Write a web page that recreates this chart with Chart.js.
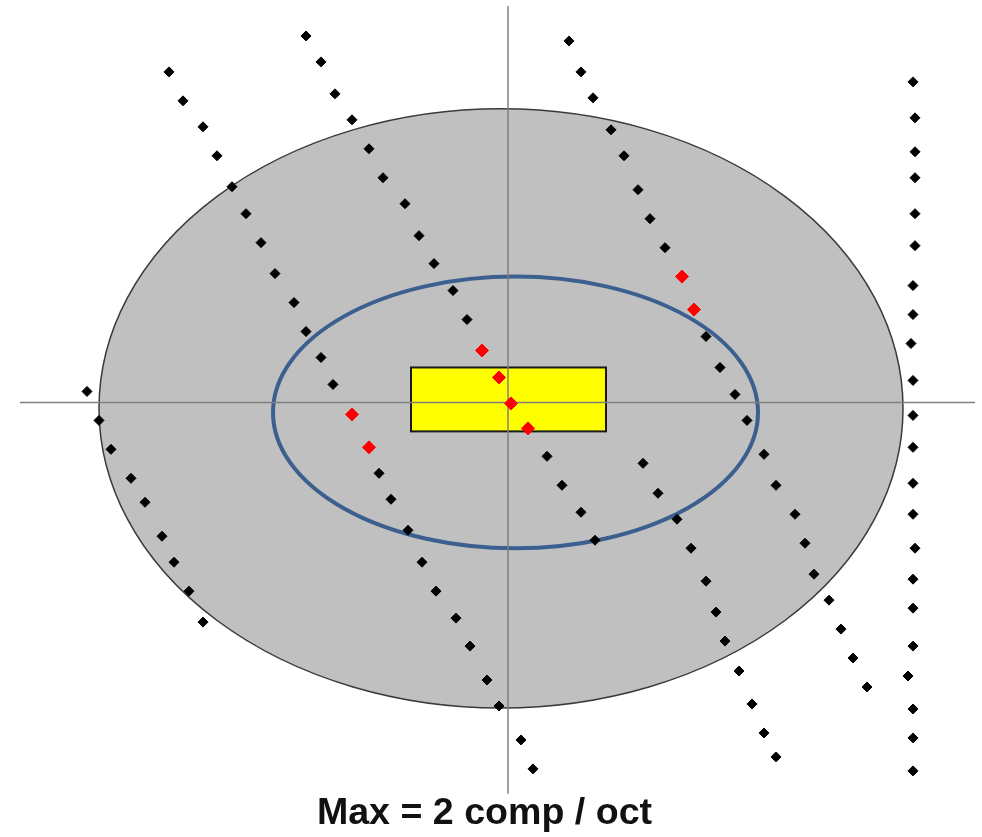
<!DOCTYPE html>
<html>
<head>
<meta charset="utf-8">
<script src="https://cdn.jsdelivr.net/npm/chart.js@4.4.0/dist/chart.umd.min.js"></script>
<style>
  body { margin: 0; background: #fff; }
  #wrap { width: 982px; height: 837px; }
</style>
</head>
<body>
<div id="wrap"><canvas id="myChart"></canvas></div>
<script>
// Sequences of components (x, y)
const seqA = [[-3.39, 3.31], [-3.25, 3.02], [-3.05, 2.76], [-2.91, 2.47], [-2.76, 2.16], [-2.62, 1.89],
  [-2.47, 1.60], [-2.33, 1.29], [-2.14, 1.00], [-2.02, 0.71], [-1.87, 0.45], [-1.75, 0.18],
  [-1.29, -0.71], [-1.17, -0.97], [-1.00, -1.28], [-0.86, -1.60], [-0.72, -1.89], [-0.52, -2.16],
  [-0.38, -2.44], [-0.21, -2.78], [-0.09, -3.04], [0.13, -3.38], [0.25, -3.67]];
const seqB = [[-2.02, 3.67], [-1.87, 3.41], [-1.73, 3.09], [-1.56, 2.83], [-1.39, 2.54], [-1.25, 2.25],
  [-1.03, 1.99], [-0.89, 1.67], [-0.74, 1.39], [-0.55, 1.12], [-0.41, 0.83],
  [0.39, -0.54], [0.54, -0.83], [0.73, -1.10], [0.87, -1.38]];
const seqC = [[0.61, 3.62], [0.73, 3.31], [0.85, 3.05], [1.03, 2.73], [1.16, 2.47], [1.30, 2.13],
  [1.42, 1.84], [1.57, 1.55], [1.98, 0.66], [2.12, 0.35], [2.27, 0.08], [2.39, -0.18],
  [2.56, -0.52], [2.68, -0.83], [2.87, -1.12], [2.97, -1.41], [3.06, -1.72], [3.21, -1.98],
  [3.33, -2.27], [3.45, -2.56], [3.59, -2.85]];
const seqD = [[1.35, -0.61], [1.50, -0.91], [1.69, -1.17], [1.83, -1.46], [1.98, -1.79], [2.08, -2.10],
  [2.17, -2.39], [2.31, -2.69], [2.44, -3.02], [2.56, -3.31], [2.68, -3.55]];
const seqE = [[-4.21, 0.11], [-4.09, -0.18], [-3.97, -0.47], [-3.77, -0.76], [-3.63, -1.00],
  [-3.46, -1.34], [-3.34, -1.60], [-3.19, -1.89], [-3.05, -2.20]];
const seqF = [[4.05, 3.21], [4.07, 2.85], [4.07, 2.51], [4.07, 2.25], [4.07, 1.89], [4.07, 1.57],
  [4.05, 1.17], [4.05, 0.88], [4.03, 0.59], [4.05, 0.22], [4.05, -0.13], [4.05, -0.45],
  [4.05, -0.81], [4.05, -1.12], [4.07, -1.46], [4.05, -1.77], [4.05, -2.06], [4.05, -2.44],
  [4.00, -2.74], [4.05, -3.07], [4.05, -3.36], [4.05, -3.69]];
// selected components (red)
const selected = [[-1.56, -0.12], [-1.39, -0.45], [-0.26, 0.52], [-0.09, 0.25], [0.03, -0.01],
  [0.20, -0.26], [1.74, 1.26], [1.86, 0.93]];

// regions: [centerX, centerY, radiusX, radiusY]
const outerRegion = [-0.07, -0.06, 4.02, 3.00];
const innerRegion = [0.075, -0.10, 2.425, 1.36];
// box: [x1, y1, x2, y2]
const centerBox = [-0.97, 0.35, 0.98, -0.29];
// axis lines
const hAxis = [[-4.88, 0], [4.67, 0]];
const vAxis = [[0, 3.97], [0, -3.92]];

const titleText = 'Max = 2 comp / oct';

const toPts = arr => arr.map(p => ({ x: p[0], y: p[1] }));

// ellipses + box drawn under the points, through the chart scales
const regionsPlugin = {
  id: 'regions',
  beforeDatasetsDraw(chart) {
    const { ctx, scales: { x, y } } = chart;
    const ellipse = (r) => {
      const cx = x.getPixelForValue(r[0]);
      const cy = y.getPixelForValue(r[1]);
      const rx = Math.abs(x.getPixelForValue(r[0] + r[2]) - cx);
      const ry = Math.abs(y.getPixelForValue(r[1] + r[3]) - cy);
      ctx.beginPath();
      ctx.ellipse(cx, cy, rx, ry, 0, 0, Math.PI * 2);
    };
    ctx.save();
    ellipse(outerRegion);
    ctx.fillStyle = '#c0c0c0';
    ctx.fill();
    ctx.lineWidth = 1.5;
    ctx.strokeStyle = '#3a3a3a';
    ctx.stroke();

    const bx1 = x.getPixelForValue(centerBox[0]);
    const by1 = y.getPixelForValue(centerBox[1]);
    const bx2 = x.getPixelForValue(centerBox[2]);
    const by2 = y.getPixelForValue(centerBox[3]);
    ctx.fillStyle = '#ffff00';
    ctx.fillRect(bx1, by1, bx2 - bx1, by2 - by1);
    ctx.lineWidth = 2;
    ctx.strokeStyle = '#1a1a1a';
    ctx.strokeRect(bx1, by1, bx2 - bx1, by2 - by1);

    ellipse(innerRegion);
    ctx.lineWidth = 4;
    ctx.strokeStyle = '#3b5f8e';
    ctx.stroke();
    ctx.restore();
  }
};

const dotStyle = {
  backgroundColor: '#000',
  borderColor: '#000',
  borderWidth: 1,
  pointStyle: 'rectRot',
  pointRadius: 5,
  showLine: false,
  clip: false
};

const axisStyle = {
  showLine: true,
  borderColor: '#808080',
  borderWidth: 1.5,
  pointRadius: 0,
  clip: false,
  order: 10
};

new Chart(document.getElementById('myChart').getContext('2d'), {
  type: 'scatter',
  data: {
    datasets: [
      { label: 'selected', data: toPts(selected), backgroundColor: '#ff0000', borderColor: '#ff0000',
        borderWidth: 1, pointStyle: 'rectRot', pointRadius: 6.5, clip: false },
      { label: 'A', data: toPts(seqA), ...dotStyle },
      { label: 'B', data: toPts(seqB), ...dotStyle },
      { label: 'C', data: toPts(seqC), ...dotStyle },
      { label: 'D', data: toPts(seqD), ...dotStyle },
      { label: 'E', data: toPts(seqE), ...dotStyle },
      { label: 'F', data: toPts(seqF), ...dotStyle },
      { label: 'h', data: toPts(hAxis), ...axisStyle },
      { label: 'v', data: toPts(vAxis), ...axisStyle }
    ]
  },
  options: {
    responsive: true,
    maintainAspectRatio: false,
    animation: false,
    // right padding moves the centred title a little to the left, like the original
    layout: { padding: { left: 0, top: 0, bottom: 0, right: 13 }, autoPadding: false },
    scales: {
      x: { type: 'linear', display: false, min: -5.08, max: 4.61 },
      y: { type: 'linear', display: false, min: -3.77, max: 4.03 }
    },
    plugins: {
      legend: { display: false },
      tooltip: { enabled: false },
      title: {
        display: true,
        position: 'bottom',
        text: titleText,
        color: '#111',
        font: { family: "'Liberation Sans', Arial, sans-serif", size: 37.6, weight: 'bold' },
        padding: { top: 12, bottom: 1 }
      }
    }
  },
  plugins: [regionsPlugin]
});
</script>
</body>
</html>
